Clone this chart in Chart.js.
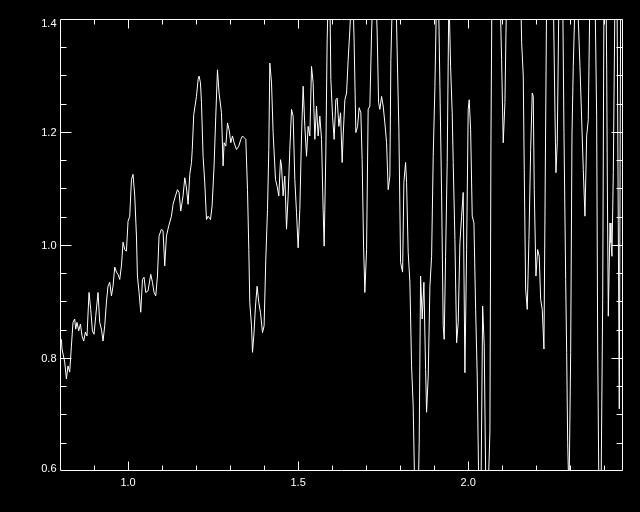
<!DOCTYPE html>
<html><head><meta charset="utf-8">
<script src="https://cdn.jsdelivr.net/npm/chart.js@4"></script>
<style>html,body{margin:0;padding:0;background:#000;}canvas{display:block;}</style>
</head><body>
<canvas id="c" width="640" height="512"></canvas>
<script>
const wavelength = [
0.8041,0.8059,0.8138,0.8188,0.8235,0.8285,0.8335,0.8382,0.8432,0.8462,0.8500,0.8550,0.8600,0.8647,0.8697,0.8747,0.8794,0.8853,0.8903,0.8953,
0.9000,0.9050,0.9118,0.9168,0.9218,0.9265,0.9315,0.9365,0.9412,0.9462,0.9512,0.9559,0.9609,0.9659,0.9706,0.9756,0.9806,0.9853,0.9903,0.9953,
1.0000,1.0050,1.0100,1.0147,1.0197,1.0247,1.0276,1.0324,1.0374,1.0424,1.0471,1.0521,1.0588,1.0668,1.0718,1.0765,1.0815,1.0865,1.0912,1.0982,
1.1029,1.1079,1.1129,1.1197,1.1276,1.1324,1.1394,1.1453,1.1500,1.1550,1.1618,1.1668,1.1718,1.1765,1.1815,1.1865,1.1888,1.1932,1.2012,1.2059,
1.2088,1.2129,1.2159,1.2206,1.2256,1.2306,1.2353,1.2424,1.2471,1.2529,1.2579,1.2629,1.2676,1.2747,1.2794,1.2824,1.2874,1.2924,1.2971,1.3021,
1.3071,1.3118,1.3188,1.3256,1.3315,1.3365,1.3412,1.3462,1.3512,1.3550,1.3579,1.3629,1.3659,1.3697,1.3747,1.3794,1.3844,1.3894,1.3953,1.4000,
1.4050,1.4100,1.4138,1.4168,1.4218,1.4265,1.4335,1.4382,1.4432,1.4482,1.4512,1.4559,1.4609,1.4659,1.4706,1.4756,1.4806,1.4853,1.4903,1.4953,
1.5000,1.5050,1.5100,1.5147,1.5197,1.5247,1.5294,1.5344,1.5394,1.5441,1.5491,1.5541,1.5588,1.5638,1.5688,1.5735,1.5765,1.5815,1.5853,1.5888,
1.5932,1.5962,1.6012,1.6059,1.6109,1.6147,1.6197,1.6247,1.6294,1.6324,1.6374,1.6424,1.6471,1.6521,1.6571,1.6609,1.6647,1.6697,1.6747,1.6794,
1.6844,1.6882,1.6924,1.6962,1.7012,1.7059,1.7109,1.7159,1.7197,1.7285,1.7324,1.7365,1.7403,1.7453,1.7500,1.7550,1.7600,1.7647,1.7697,1.7726,
1.7776,1.7874,1.7912,1.7962,1.8012,1.8071,1.8109,1.8159,1.8188,1.8235,1.8285,1.8335,1.8382,1.8432,1.8529,1.8559,1.8600,1.8647,1.8697,1.8747,
1.8776,1.8824,1.8874,1.8924,1.8971,1.9021,1.9071,1.9124,1.9168,1.9218,1.9265,1.9294,1.9335,1.9382,1.9432,1.9482,1.9529,1.9559,1.9609,1.9659,
1.9706,1.9756,1.9806,1.9853,1.9903,1.9953,2.0000,2.0029,2.0071,2.0118,2.0168,2.0218,2.0265,2.0315,2.0374,2.0424,2.0471,2.0521,2.0579,2.0638,
2.0668,2.0697,2.0932,2.0982,2.1029,2.1079,2.1129,2.1541,2.1571,2.1618,2.1647,2.1688,2.1735,2.1785,2.1835,2.1882,2.1912,2.1941,2.1991,2.2041,
2.2088,2.2129,2.2176,2.2226,2.2306,2.2500,2.2550,2.2579,2.2618,2.2668,2.2776,2.2815,2.2865,2.2894,2.2924,2.2962,2.3012,2.3050,2.3088,2.3147,
2.3206,2.3285,2.3382,2.3432,2.3482,2.3529,2.3579,2.3726,2.3776,2.3806,2.3844,2.3903,2.3953,2.3991,2.4050,2.4071,2.4088,2.4118,2.4168,2.4197,
2.4226,2.4265,2.4315,2.4374,2.4441,2.4482,2.4541
];
const flux = [
0.833,0.816,0.793,0.763,0.786,0.775,0.821,0.863,0.869,0.851,0.863,0.848,0.860,0.839,0.830,0.846,0.839,0.916,0.886,0.848,
0.842,0.874,0.916,0.863,0.851,0.830,0.857,0.899,0.927,0.934,0.910,0.927,0.961,0.952,0.948,0.939,0.963,1.005,0.992,0.989,
1.042,1.051,1.116,1.125,1.087,1.016,0.945,0.916,0.881,0.939,0.943,0.916,0.919,0.948,0.934,0.916,0.910,0.945,1.016,1.028,
1.025,0.963,1.016,1.034,1.051,1.072,1.087,1.098,1.093,1.060,1.087,1.119,1.101,1.072,1.125,1.146,1.169,1.231,1.263,1.293,
1.299,1.287,1.252,1.157,1.110,1.045,1.051,1.045,1.069,1.140,1.228,1.310,1.269,1.234,1.140,1.181,1.175,1.216,1.204,1.181,
1.193,1.181,1.169,1.175,1.187,1.193,1.190,1.187,1.098,0.992,0.898,0.857,0.810,0.839,0.892,0.927,0.898,0.880,0.845,0.857,
0.975,1.063,1.169,1.322,1.287,1.199,1.116,1.104,1.087,1.151,1.140,1.087,1.122,1.028,1.087,1.169,1.240,1.228,1.116,1.057,
0.995,1.063,1.193,1.281,1.210,1.157,1.210,1.193,1.316,1.287,1.187,1.246,1.193,1.228,1.187,1.063,0.998,1.163,1.363,1.450,
1.450,1.293,1.228,1.187,1.257,1.260,1.210,1.234,1.146,1.193,1.257,1.269,1.328,1.381,1.450,1.450,1.358,1.199,1.210,1.243,
1.234,1.151,0.998,0.916,0.992,1.240,1.246,1.375,1.450,1.450,1.375,1.252,1.240,1.263,1.246,1.216,1.181,1.098,1.122,1.328,
1.450,1.450,1.340,1.204,0.969,0.952,1.111,1.146,1.111,0.987,0.934,0.786,0.715,0.550,0.550,0.651,0.945,0.869,0.934,0.780,
0.704,0.768,0.927,0.980,1.157,1.281,1.450,1.450,1.281,1.087,0.857,0.833,0.980,1.146,1.450,1.316,1.234,1.146,1.010,0.827,
0.863,1.004,1.051,1.093,0.774,0.992,1.240,1.257,1.204,1.051,1.039,0.886,0.768,0.550,0.550,0.892,0.821,0.550,0.550,0.669,
1.181,1.450,1.450,1.328,1.181,1.252,1.450,1.450,1.358,1.299,1.134,0.922,0.886,1.010,1.169,1.269,1.263,1.098,0.945,0.992,
0.980,0.904,0.886,0.816,1.450,1.450,1.234,1.128,1.181,1.450,1.450,1.199,0.939,0.810,0.651,0.550,0.810,1.193,1.316,1.450,
1.450,1.316,1.134,1.051,1.193,1.222,1.450,1.450,1.228,0.816,0.550,0.550,0.904,1.450,1.450,1.310,1.122,0.874,1.039,1.004,
0.980,1.128,1.450,1.450,0.710,1.450,1.450
];
const xRange = [0.8, 2.455];
const yRange = [0.6, 1.4];
const xTickValues = [1.0, 1.5, 2.0];
const xTickLabels = ['1.0', '1.5', '2.0'];
const yTickValues = [0.6, 0.8, 1.0, 1.2, 1.4];
const yTickLabels = ['0.6', '0.8', '1.0', '1.2', '1.4'];
const xMinorStep = 0.1;
const yMinorStep = 0.05;

const points = wavelength.map((w, i) => ({ x: w, y: flux[i] }));

const idlAxes = {
  id: 'idlAxes',
  beforeDraw(chart) {
    const ctx = chart.ctx;
    ctx.save();
    ctx.fillStyle = '#000';
    ctx.fillRect(0, 0, chart.width, chart.height);
    ctx.restore();
  },
  afterDraw(chart) {
    const { ctx, chartArea: a, scales: { x, y } } = chart;
    ctx.save();
    ctx.strokeStyle = '#fff';
    ctx.fillStyle = '#fff';
    ctx.lineWidth = 1;
    const L = Math.round(a.left) + 0.5, R = Math.round(a.right) - 0.5;
    const T = Math.round(a.top) + 0.5, B = Math.round(a.bottom) - 0.5;
    ctx.beginPath();
    ctx.rect(L, T, R - L, B - T);
    const nx0 = Math.ceil(xRange[0] / xMinorStep - 1e-6), nx1 = Math.floor(xRange[1] / xMinorStep + 1e-6);
    for (let i = nx0; i <= nx1; i++) {
      const v = i * xMinorStep;
      const major = xTickValues.some(t => Math.abs(t - v) < 1e-6);
      const len = major ? 9 : 5;
      const px = Math.round(x.getPixelForValue(v)) + 0.5;
      if (px <= L + 1 || px >= R - 1) continue;
      ctx.moveTo(px, B); ctx.lineTo(px, B - len);
      ctx.moveTo(px, T); ctx.lineTo(px, T + len);
    }
    const ny0 = Math.ceil(yRange[0] / yMinorStep - 1e-6), ny1 = Math.floor(yRange[1] / yMinorStep + 1e-6);
    for (let i = ny0; i <= ny1; i++) {
      const v = i * yMinorStep;
      const major = yTickValues.some(t => Math.abs(t - v) < 1e-6);
      const len = major ? 11 : 6;
      const py = Math.round(y.getPixelForValue(v)) + 0.5;
      if (py <= T + 1 || py >= B - 1) continue;
      ctx.moveTo(L, py); ctx.lineTo(L + len, py);
      ctx.moveTo(R, py); ctx.lineTo(R - len, py);
    }
    ctx.stroke();
    ctx.font = '11px "Liberation Sans", Arial, sans-serif';
    ctx.textAlign = 'right';
    ctx.textBaseline = 'middle';
    yTickValues.forEach((v, i) => {
      const py = Math.min(Math.max(y.getPixelForValue(v) + 1, T + 4), B - 2);
      ctx.fillText(yTickLabels[i], L - 4, py);
    });
    ctx.textAlign = 'center';
    ctx.textBaseline = 'top';
    xTickValues.forEach((v, i) => {
      ctx.fillText(xTickLabels[i], x.getPixelForValue(v), B + 7);
    });
    ctx.restore();
  }
};

new Chart(document.getElementById('c'), {
  type: 'line',
  data: {
    datasets: [{
      data: points,
      borderColor: '#fff',
      borderWidth: 1,
      pointRadius: 0,
      tension: 0,
      fill: false,
      clip: 0
    }]
  },
  options: {
    responsive: false,
    animation: false,
    parsing: true,
    layout: { padding: { left: 60, right: 17, top: 19, bottom: 41 } },
    scales: {
      x: { type: 'linear', min: xRange[0], max: xRange[1], display: false },
      y: { type: 'linear', min: yRange[0], max: yRange[1], display: false }
    },
    plugins: { legend: { display: false }, tooltip: { enabled: false } },
    events: []
  },
  plugins: [idlAxes]
});
</script>
</body></html>
